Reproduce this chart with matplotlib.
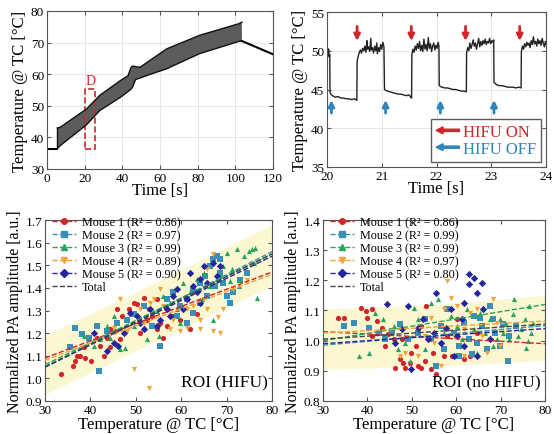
import numpy as np
import matplotlib
matplotlib.use("Agg")
import matplotlib.pyplot as plt
import matplotlib.patches as mpatches
from matplotlib.lines import Line2D
from matplotlib.legend_handler import HandlerPatch

plt.rcParams['font.family'] = ['Liberation Serif', 'DejaVu Serif']

# ---- panel A: envelope of the oscillating thermocouple trace ----
t_base = [0, 5.5]
T_base = [36.2, 36.2]
t_env = [5.5, 7, 21, 28, 39, 43, 44.5, 45.5, 47, 49.4, 55, 63.5, 81, 102, 103.5]
T_upper = [43.0, 43.2, 49.0, 53.3, 58.0, 59.5, 62.0, 62.6, 62.4, 62.2, 64.5, 68.0, 72.3, 76.0, 76.5]
T_lower = [36.5, 37.4, 44.0, 48.5, 52.7, 54.5, 55.2, 56.0, 58.3, 58.8, 60.0, 61.7, 66.5, 70.4, 70.5]
t_cool = [103.5, 120]
T_cool = [70.5, 66.3]
d_box = (20.3, 36.3, 5.3, 19.0)  # x, y, w, h of region D

# ---- panel B: zoom of the trace 20-24 s ----
t_b = [20.00, 20.01, 20.02, 20.03, 20.04, 20.05, 20.055,
       20.07, 20.10, 20.15, 20.20, 20.25, 20.30, 20.35, 20.40, 20.45, 20.50, 20.545, 20.55,
       20.57, 20.59, 20.61, 20.63, 20.65, 20.67, 20.69, 20.71, 20.73, 20.74, 20.76, 20.78, 20.80,
       20.81, 20.83, 20.85, 20.87, 20.89, 20.91, 20.92, 20.94, 20.96, 20.98, 21.00, 21.02, 21.04, 21.05,
       21.07, 21.10, 21.15, 21.20, 21.25, 21.30, 21.35, 21.40, 21.45, 21.50, 21.53, 21.545, 21.55,
       21.57, 21.59, 21.61, 21.63, 21.65, 21.67, 21.69, 21.71, 21.73, 21.75, 21.77, 21.79, 21.81,
       21.83, 21.85, 21.87, 21.89, 21.91, 21.93, 21.95, 21.97, 21.99, 22.01, 22.03, 22.045, 22.05,
       22.07, 22.10, 22.15, 22.20, 22.25, 22.30, 22.35, 22.40, 22.45, 22.50, 22.545, 22.55,
       22.57, 22.59, 22.61, 22.63, 22.65, 22.67, 22.69, 22.71, 22.73, 22.75, 22.77, 22.79, 22.81,
       22.83, 22.85, 22.87, 22.89, 22.91, 22.93, 22.95, 22.97, 22.99, 23.01, 23.03, 23.045, 23.05,
       23.07, 23.10, 23.15, 23.20, 23.25, 23.30, 23.35, 23.40, 23.45, 23.50, 23.545, 23.55,
       23.57, 23.59, 23.61, 23.63, 23.65, 23.67, 23.69, 23.71, 23.73, 23.75, 23.77, 23.79, 23.81,
       23.83, 23.85, 23.87, 23.89, 23.91, 23.93, 23.95, 23.97, 23.99, 24.00]
T_b = [49.6, 50.3, 49.4, 50.2, 49.2, 49.5, 44.6,
       44.4, 44.2, 44.0, 44.1, 43.9, 43.9, 43.8, 43.8, 43.7, 43.8, 43.6, 48.6,
       49.3, 49.8, 50.1, 49.7, 50.3, 50.0, 50.6, 49.8, 51.3, 50.2, 50.5, 49.9, 51.6,
       50.1, 50.4, 49.7, 50.6, 50.0, 51.0, 49.6, 50.4, 49.9, 50.8, 50.2, 51.1, 50.5, 45.0,
       44.9, 44.8, 44.7, 44.6, 44.5, 44.4, 44.4, 44.3, 44.2, 44.3, 44.0, 43.9, 49.5,
       50.2, 49.8, 50.6, 50.1, 50.9, 50.3, 51.2, 50.0, 50.7, 49.9, 51.5, 50.2, 50.8,
       50.0, 51.7, 50.3, 50.9, 49.9, 50.6, 51.0, 50.1, 50.7, 50.3, 51.1, 50.6, 45.5,
       45.4, 45.3, 45.2, 45.2, 45.1, 45.0, 45.0, 44.9, 44.8, 44.8, 44.7, 49.8,
       50.4, 50.0, 51.0, 50.3, 50.8, 51.4, 50.6, 51.0, 50.2, 50.9, 51.6, 50.5, 51.2,
       50.7, 51.3, 50.9, 51.5, 50.8, 51.2, 51.0, 51.6, 50.9, 51.3, 51.1, 51.4, 45.9,
       45.8, 45.6, 45.5, 45.5, 45.4, 45.3, 45.3, 45.3, 45.2, 45.3, 45.2, 49.9,
       50.6, 50.2, 50.9, 50.5, 51.1, 50.7, 51.0, 50.4, 51.3, 50.8, 51.8, 50.9, 51.2,
       50.6, 51.5, 50.9, 51.3, 50.7, 51.6, 51.0, 50.5, 51.2, 50.8]
t_on = [20.55, 21.54, 22.53, 23.52]
t_off = [20.08, 21.07, 22.07, 23.05]

# ---- panels C/D: PA amplitude vs temperature ----
mice = ['Mouse 1', 'Mouse 2', 'Mouse 3', 'Mouse 4', 'Mouse 5']
r2_hifu = [0.86, 0.97, 0.99, 0.89, 0.90]
r2_nohifu = [0.86, 0.99, 0.99, 0.97, 0.80]
colors = ['#d0262b', '#3a8fb7', '#26a35c', '#f2a33a', '#25259e']
markers = ['o', 's', '^', 'v', 'D']

hifu_x = [
    [33.5, 36.1, 36.6, 37.1, 37.7, 38.8, 40.1, 38.5, 42.9, 44.3, 43.6, 45.4, 45.8, 46.9, 48.4, 49.5, 50.2,
     51.7, 52.8, 53.5, 54.6, 55.4, 56.1, 56.8, 58.3, 59.8, 62.0, 63.5, 44.3, 41.4, 42.1, 46.5, 51.0, 52.4, 54.6],
    [36.6, 35.5, 38.1, 39.6, 41.8, 41.4, 43.6, 45.8, 48.0, 49.5, 51.7, 55.4, 53.5, 56.8, 58.3, 59.8, 61.3,
     62.7, 64.2, 65.3, 66.4, 67.1, 67.9, 68.6, 69.3, 70.1, 70.8, 71.5, 65.7, 64.2, 62.7, 61.3, 59.0, 68.6,
     67.5, 73.0, 74.5],
    [38.5, 40.7, 42.1, 43.6, 45.1, 46.5, 47.6, 49.5, 51.0, 52.4, 54.6, 56.1, 57.6, 59.0, 60.5, 62.0, 63.5,
     65.0, 66.4, 67.1, 67.9, 68.6, 69.3, 70.1, 71.2, 72.3, 73.0, 73.8, 74.9, 75.6, 76.0, 76.3, 76.7, 72.7,
     70.8, 64.6, 59.8, 55.0, 51.7, 44.3],
    [49.5, 52.8, 45.1, 48.0, 51.0, 53.2, 55.4, 57.6, 59.8, 61.3, 62.7, 64.2, 65.7, 67.1, 68.2, 68.6, 69.3,
     67.1, 64.2, 58.3, 56.1, 53.9, 61.3, 71.5, 74.5, 65.7, 46.5, 51.7],
    [40.7, 43.6, 45.1, 47.3, 48.8, 50.2, 51.0, 53.2, 54.6, 56.8, 58.3, 59.0, 60.5, 62.0, 62.7, 64.2, 65.0,
     65.7, 67.1, 67.9, 68.6, 63.5, 61.3, 55.4, 51.7, 57.6, 64.2, 46.0],
]
hifu_y = [
    [1.020, 1.055, 1.077, 1.100, 1.100, 1.090, 1.077, 1.140, 1.100, 1.140, 1.180, 1.210, 1.305, 1.275, 1.305,
     1.335, 1.330, 1.357, 1.305, 1.276, 1.350, 1.246, 1.180, 1.230, 1.276, 1.260, 1.217, 1.283, 1.217, 1.180,
     1.143, 1.172, 1.200, 1.260, 1.217],
    [1.224, 1.140, 1.195, 1.180, 1.033, 1.230, 1.210, 1.246, 1.260, 1.283, 1.320, 1.143, 1.230, 1.350, 1.380,
     1.320, 1.350, 1.394, 1.423, 1.452, 1.497, 1.526, 1.540, 1.467, 1.423, 1.364, 1.335, 1.380, 1.364, 1.335,
     1.290, 1.246, 1.276, 1.526, 1.408, 1.437, 1.467],
    [1.187, 1.143, 1.172, 1.230, 1.276, 1.128, 1.136, 1.230, 1.260, 1.172, 1.298, 1.364, 1.335, 1.305, 1.423,
     1.380, 1.438, 1.467, 1.408, 1.260, 1.438, 1.452, 1.497, 1.556, 1.482, 1.570, 1.437, 1.540, 1.563, 1.570,
     1.510, 1.578, 1.357, 1.408, 1.430, 1.350, 1.246, 1.187, 1.224, 1.180],
    [1.040, 0.959, 1.224, 1.210, 1.305, 1.335, 1.394, 1.217, 1.210, 1.305, 1.320, 1.260, 1.305, 1.210, 1.270,
     1.202, 1.305, 1.548, 1.217, 1.260, 1.320, 1.350, 1.224, 1.394, 1.437, 1.482, 1.350, 1.246],
    [1.202, 1.120, 1.158, 1.202, 1.290, 1.276, 1.246, 1.305, 1.230, 1.305, 1.364, 1.394, 1.305, 1.467, 1.408,
     1.438, 1.497, 1.423, 1.511, 1.452, 1.497, 1.380, 1.350, 1.260, 1.217, 1.276, 1.335, 1.143],
]
hifu_fit = [(1.09, 1.47), (1.05, 1.56), (1.06, 1.55), (1.08, 1.46), (1.05, 1.54)]
hifu_total = (1.05, 1.55)
hifu_band_x = [30, 55, 80]
hifu_band_lo = [0.93, 1.17, 1.41]
hifu_band_hi = [1.19, 1.43, 1.68]

nohifu_x = [
    [33.3, 34.8, 38.5, 39.6, 40.0, 41.1, 42.2, 43.3, 44.7, 45.9, 46.2, 47.3, 48.0, 48.4, 49.5, 49.9, 51.4,
     52.1, 52.9, 53.2, 54.3, 55.4, 54.7, 56.5, 58.0, 59.1, 60.9, 61.7, 63.2, 64.7, 51.0, 47.7, 57.3, 60.2,
     52.1, 44.0, 41.1],
    [34.8, 37.0, 40.3, 42.5, 44.0, 45.5, 47.3, 49.2, 51.4, 52.9, 54.3, 55.4, 56.5, 58.0, 59.5, 60.6, 61.7,
     62.8, 63.9, 64.7, 65.8, 66.9, 67.6, 68.7, 69.8, 70.6, 71.7, 72.0, 63.5, 60.6, 57.3, 65.4, 68.3, 73.5],
    [38.1, 40.3, 41.8, 43.6, 45.9, 47.0, 48.4, 49.5, 50.6, 51.4, 52.9, 54.3, 55.8, 57.3, 58.8, 60.2, 61.3,
     62.4, 63.9, 65.4, 66.5, 67.6, 69.1, 69.8, 70.6, 71.3, 72.0, 72.8, 73.1, 73.9, 74.6, 75.4, 75.7, 76.5,
     76.8, 77.2, 68.3, 64.7, 76.1],
    [47.3, 48.4, 51.4, 52.9, 54.3, 56.5, 57.3, 58.0, 58.8, 60.2, 61.7, 63.2, 64.7, 65.8, 66.9, 68.3, 69.1,
     69.8, 61.7, 59.5, 55.1],
    [44.4, 49.2, 49.9, 51.4, 52.5, 53.6, 55.4, 56.5, 57.7, 58.8, 60.2, 61.3, 62.8, 63.9, 64.7, 65.8, 62.8,
     66.1, 64.7, 61.7, 59.5, 55.1, 67.6, 46.2, 47.7, 61.7],
]
nohifu_y = [
    [1.076, 1.076, 1.109, 1.098, 1.076, 1.104, 1.065, 1.043, 1.021, 1.004, 0.910, 0.938, 0.927, 0.910, 0.927,
     0.960, 0.916, 0.910, 0.932, 1.115, 0.905, 0.888, 0.960, 0.993, 1.015, 0.949, 0.982, 0.938, 0.949, 1.027,
     0.982, 1.004, 0.949, 1.071, 1.049, 0.982, 1.015],
    [1.049, 1.057, 1.043, 1.027, 1.004, 1.032, 1.054, 1.004, 1.027, 1.071, 1.004, 0.916, 1.049, 1.104, 1.027,
     0.982, 1.060, 1.004, 1.082, 0.993, 1.049, 0.971, 1.115, 1.027, 0.982, 1.054, 0.932, 1.015, 0.955, 0.949,
     0.971, 1.076, 1.071, 1.049],
    [0.949, 0.960, 1.093, 1.071, 1.049, 0.971, 0.993, 0.932, 1.109, 1.071, 0.971, 1.126, 1.137, 1.027, 1.082,
     1.049, 1.004, 1.104, 1.038, 1.093, 1.027, 1.071, 1.004, 1.071, 1.027, 1.054, 1.004, 1.088, 1.137, 1.015,
     1.038, 1.071, 0.977, 1.115, 1.027, 1.060, 0.982, 0.960, 1.000],
    [0.949, 0.960, 0.949, 1.015, 1.076, 0.916, 1.104, 1.198, 1.143, 1.115, 1.038, 1.093, 1.104, 1.015, 0.960,
     1.137, 1.060, 0.982, 0.949, 1.015, 0.993],
    [1.120, 1.115, 0.905, 1.043, 1.071, 1.004, 1.159, 0.993, 1.043, 1.104, 1.015, 1.071, 1.187, 1.209, 1.159,
     1.192, 1.220, 1.104, 0.949, 0.982, 0.949, 1.027, 1.004, 0.993, 1.038, 1.126],
]
nohifu_fit = [(1.03, 0.99), (0.985, 1.05), (1.00, 1.12), (1.025, 1.065), (0.99, 1.04)]
nohifu_total = (1.005, 1.055)
nohifu_band_x = [30, 55, 80]
nohifu_band_lo = [0.905, 0.915, 0.935]
nohifu_band_hi = [1.105, 1.12, 1.15]

RED = '#d0262b'
BLUE = '#2e86b8'
FRAME = '#555555'


def style_axes(ax, grid):
    ax.tick_params(direction='in', top=True, right=True, labelsize=9.5, length=3,
                   color=FRAME, pad=2)
    for s in ax.spines.values():
        s.set_color(FRAME)
        s.set_linewidth(0.8)
    if grid:
        ax.grid(True, color='#e2e2e2', lw=0.6)
        ax.set_axisbelow(True)


def arrow_handle(legend, orig_handle, xdescent, ydescent, width, height, fontsize):
    return mpatches.FancyArrow(width, 0.5 * height, -width, 0, width=1.6, head_width=5,
                               head_length=5, length_includes_head=True)


fig = plt.figure(figsize=(5.54, 4.35), dpi=100)

# ---------------- A ----------------
axA = fig.add_axes([47 / 554, 1 - 170 / 435, 226 / 554, 158 / 435])
style_axes(axA, True)
axA.plot(t_base, T_base, color='black', lw=1.5)
axA.fill_between(t_env, T_lower, T_upper, facecolor='#5c5c5c', edgecolor='none')
axA.plot(t_env, T_upper, color='#111111', lw=1.0)
axA.plot(t_env, T_lower, color='#111111', lw=1.0)
axA.plot([t_env[0], t_env[0]], [T_lower[0], T_upper[0]], color='#111111', lw=1.0)
axA.plot(t_cool, T_cool, color='black', lw=1.5)
axA.add_patch(mpatches.Rectangle((d_box[0], d_box[1]), d_box[2], d_box[3], fill=False,
                                 edgecolor='#c8262b', ls='--', lw=1.2))
axA.text(d_box[0] + d_box[2] / 2, d_box[1] + d_box[3] + 0.5, 'D', color='#c8262b',
         ha='center', va='bottom', fontsize=10)
axA.set_xlim(0, 120)
axA.set_ylim(30, 80)
axA.set_xticks(range(0, 121, 20))
axA.set_yticks(range(30, 81, 10))
axA.set_xlabel('Time [s]', fontsize=12, labelpad=-1)
axA.set_ylabel('Temperature @ TC [°C]', fontsize=12, labelpad=2)

# ---------------- B ----------------
axB = fig.add_axes([327 / 554, 1 - 168 / 435, 219 / 554, 155 / 435])
style_axes(axB, True)
axB.plot(t_b, T_b, color='#222222', lw=1.0)
for t in t_on:
    axB.annotate('', xy=(t, 50.9), xytext=(t, 53.5),
                 arrowprops=dict(arrowstyle='-|>', color=RED, lw=2, mutation_scale=9))
for t in t_off:
    axB.annotate('', xy=(t, 44.0), xytext=(t, 41.6),
                 arrowprops=dict(arrowstyle='-|>', color=BLUE, lw=2, mutation_scale=9))
axB.set_xlim(20, 24)
axB.set_ylim(35, 55)
axB.set_xticks(range(20, 25))
axB.set_yticks(range(35, 56, 5))
axB.set_xlabel('Time [s]', fontsize=12, labelpad=-1)
axB.set_ylabel('Temperature @ TC [°C]', fontsize=12, labelpad=2)
handles = [mpatches.Patch(color=RED), mpatches.Patch(color=BLUE)]
legB = axB.legend(handles, ['HIFU ON', 'HIFU OFF'], loc='lower right', fontsize=12,
                  labelcolor=[RED, BLUE], handler_map={mpatches.Patch: HandlerPatch(patch_func=arrow_handle)},
                  frameon=True, fancybox=False, edgecolor='#333333', handlelength=1.4,
                  handletextpad=0.2, labelspacing=0.05, borderpad=0.3, borderaxespad=0.3)
legB.get_frame().set_linewidth(1.0)


# ---------------- C / D ----------------
def scatter_panel(ax, xs, ys, fits, total, r2, band, ylim, yticks, roi):
    style_axes(ax, False)
    bx, blo, bhi = band
    ax.fill_between(bx, blo, bhi, color='#fbf5c6', alpha=0.8, lw=0, zorder=0)
    for i in range(len(mice)):
        ax.scatter(xs[i], ys[i], s=14, marker=markers[i], color=colors[i], lw=0, zorder=2)
    for i in range(len(mice)):
        ax.plot([30, 80], fits[i], ls='--', color=colors[i], lw=1.0, zorder=3)
    ax.plot([30, 80], total, ls='--', color='#444444', lw=1.0, zorder=3)
    ax.set_xlim(30, 80)
    ax.set_ylim(*ylim)
    ax.set_xticks(range(30, 81, 10))
    ax.set_yticks(yticks)
    ax.set_yticklabels([f'{v:.1f}' for v in yticks])
    ax.set_xlabel('Temperature @ TC [°C]', fontsize=12, labelpad=0)
    ax.set_ylabel('Normalized PA amplitude [a.u.]', fontsize=11.5, labelpad=2)
    ax.text(0.98, 0.06, roi, transform=ax.transAxes, ha='right', va='bottom', fontsize=12.5)
    hs = [Line2D([], [], ls='--', color=colors[i], marker=markers[i], markersize=4, lw=1)
          for i in range(len(mice))]
    hs.append(Line2D([], [], ls='--', color='#444444', lw=1))
    labels = [f'{m} (R² = {r:.2f})' for m, r in zip(mice, r2)] + ['Total']
    ax.legend(hs, labels, loc='upper left', bbox_to_anchor=(0.02, 1.035), fontsize=8.7,
              frameon=False, handlelength=2.0, handletextpad=0.5, labelspacing=0.08,
              borderpad=0.2, borderaxespad=0)


axC = fig.add_axes([45 / 554, 1 - 402 / 435, 227 / 554, 181 / 435])
scatter_panel(axC, hifu_x, hifu_y, hifu_fit, hifu_total, r2_hifu,
              (hifu_band_x, hifu_band_lo, hifu_band_hi), (0.9, 1.7),
              np.round(np.arange(0.9, 1.71, 0.1), 1), 'ROI (HIFU)')

axD = fig.add_axes([323 / 554, 1 - 402 / 435, 222 / 554, 181 / 435])
scatter_panel(axD, nohifu_x, nohifu_y, nohifu_fit, nohifu_total, r2_nohifu,
              (nohifu_band_x, nohifu_band_lo, nohifu_band_hi), (0.8, 1.4),
              np.round(np.arange(0.8, 1.41, 0.1), 1), 'ROI (no HIFU)')

fig.savefig('out.png', dpi=100)
